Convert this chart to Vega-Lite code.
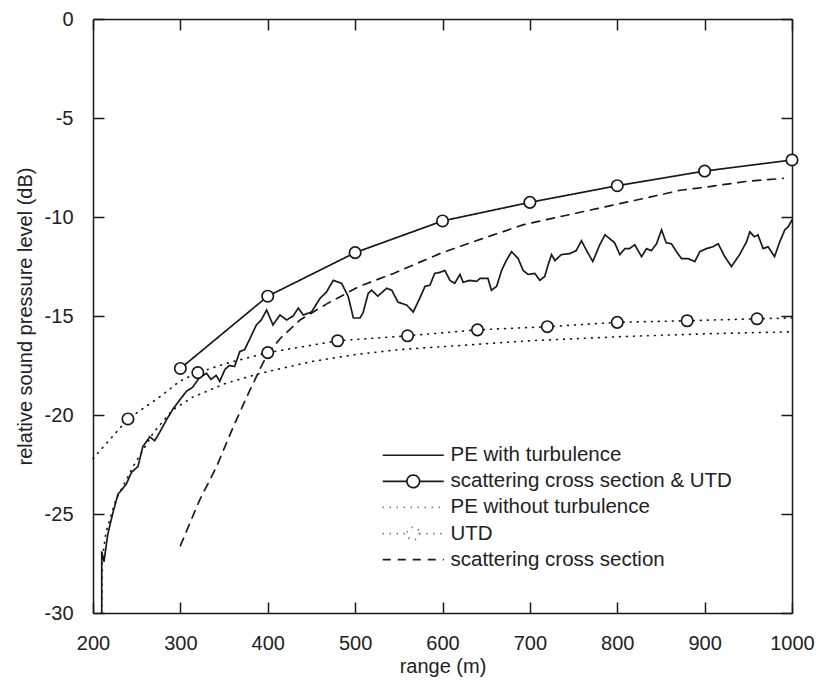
{
  "$schema": "https://vega.github.io/schema/vega-lite/v6.json",
  "width": 699,
  "height": 594,
  "autosize": {"type": "none"},
  "padding": {"left": 93, "top": 19, "right": 24, "bottom": 70},
  "background": "white",
  "config": {
    "view": {"stroke": null},
    "font": "Liberation Sans",
    "axis": {
      "domainColor": "#1a1a1a", "domainWidth": 1.5,
      "tickColor": "#1a1a1a", "tickWidth": 1.5, "tickSize": -11,
      "labelPadding": 31, "labelFont": "Liberation Sans", "labelFontSize": 20, "labelColor": "#222",
      "titleFont": "Liberation Sans", "titleFontSize": 20, "titleFontWeight": "normal", "titleColor": "#222",
      "grid": false, "labelFlush": false
    },
    "legend": {
      "orient": "none", "legendX": 310, "legendY": 426,
      "symbolSize": 100, "symbolStrokeWidth": 1.7, "symbolStrokeColor": "#1a1a1a", "symbolFillColor": "white",
      "labelFontSize": 20.5, "labelFont": "Liberation Sans", "labelColor": "#222",
      "rowPadding": 5.1, "labelOffset": 27, "padding": 0, "labelLimit": 400
    }
  },
  "datasets": {
    "curves": [
      {"series": "PE with turbulence", "r": 210, "db": -30},
      {"series": "PE with turbulence", "r": 210, "db": -26.9},
      {"series": "PE with turbulence", "r": 212.6, "db": -27.4},
      {"series": "PE with turbulence", "r": 217, "db": -26.0},
      {"series": "PE with turbulence", "r": 223, "db": -24.9},
      {"series": "PE with turbulence", "r": 228.6, "db": -24.0},
      {"series": "PE with turbulence", "r": 238, "db": -23.5},
      {"series": "PE with turbulence", "r": 244, "db": -22.9},
      {"series": "PE with turbulence", "r": 251.5, "db": -22.6},
      {"series": "PE with turbulence", "r": 257, "db": -21.6},
      {"series": "PE with turbulence", "r": 265, "db": -21.1},
      {"series": "PE with turbulence", "r": 270.6, "db": -21.3},
      {"series": "PE with turbulence", "r": 276, "db": -20.9},
      {"series": "PE with turbulence", "r": 284, "db": -20.25},
      {"series": "PE with turbulence", "r": 291.5, "db": -19.7},
      {"series": "PE with turbulence", "r": 300, "db": -19.2},
      {"series": "PE with turbulence", "r": 307, "db": -18.8},
      {"series": "PE with turbulence", "r": 314, "db": -18.6},
      {"series": "PE with turbulence", "r": 322, "db": -18.1},
      {"series": "PE with turbulence", "r": 330, "db": -17.9},
      {"series": "PE with turbulence", "r": 335, "db": -18.2},
      {"series": "PE with turbulence", "r": 341, "db": -18.0},
      {"series": "PE with turbulence", "r": 345, "db": -18.3},
      {"series": "PE with turbulence", "r": 351, "db": -17.7},
      {"series": "PE with turbulence", "r": 356, "db": -17.5},
      {"series": "PE with turbulence", "r": 362, "db": -17.55},
      {"series": "PE with turbulence", "r": 368, "db": -16.8},
      {"series": "PE with turbulence", "r": 373.5, "db": -16.7},
      {"series": "PE with turbulence", "r": 379, "db": -16.2},
      {"series": "PE with turbulence", "r": 387, "db": -15.45},
      {"series": "PE with turbulence", "r": 392.6, "db": -15.2},
      {"series": "PE with turbulence", "r": 398.7, "db": -14.7},
      {"series": "PE with turbulence", "r": 406, "db": -15.45},
      {"series": "PE with turbulence", "r": 414, "db": -14.95},
      {"series": "PE with turbulence", "r": 421.6, "db": -15.2},
      {"series": "PE with turbulence", "r": 429, "db": -15.0},
      {"series": "PE with turbulence", "r": 435, "db": -14.6},
      {"series": "PE with turbulence", "r": 440.6, "db": -14.95},
      {"series": "PE with turbulence", "r": 450, "db": -14.8},
      {"series": "PE with turbulence", "r": 460, "db": -14.1},
      {"series": "PE with turbulence", "r": 467, "db": -13.8},
      {"series": "PE with turbulence", "r": 475, "db": -13.2},
      {"series": "PE with turbulence", "r": 484.5, "db": -13.35},
      {"series": "PE with turbulence", "r": 492, "db": -14.0},
      {"series": "PE with turbulence", "r": 498, "db": -15.1},
      {"series": "PE with turbulence", "r": 505.5, "db": -15.1},
      {"series": "PE with turbulence", "r": 509, "db": -14.85},
      {"series": "PE with turbulence", "r": 515, "db": -13.85},
      {"series": "PE with turbulence", "r": 519, "db": -13.7},
      {"series": "PE with turbulence", "r": 526, "db": -14.0},
      {"series": "PE with turbulence", "r": 536, "db": -13.6},
      {"series": "PE with turbulence", "r": 542, "db": -13.7},
      {"series": "PE with turbulence", "r": 549, "db": -14.3},
      {"series": "PE with turbulence", "r": 559, "db": -14.45},
      {"series": "PE with turbulence", "r": 566.5, "db": -14.8},
      {"series": "PE with turbulence", "r": 574, "db": -14.1},
      {"series": "PE with turbulence", "r": 580, "db": -13.5},
      {"series": "PE with turbulence", "r": 585.6, "db": -13.45},
      {"series": "PE with turbulence", "r": 591, "db": -12.85},
      {"series": "PE with turbulence", "r": 597, "db": -12.8},
      {"series": "PE with turbulence", "r": 602.7, "db": -12.7},
      {"series": "PE with turbulence", "r": 608.5, "db": -13.2},
      {"series": "PE with turbulence", "r": 614, "db": -13.35},
      {"series": "PE with turbulence", "r": 620, "db": -12.9},
      {"series": "PE with turbulence", "r": 623.7, "db": -13.3},
      {"series": "PE with turbulence", "r": 631, "db": -13.2},
      {"series": "PE with turbulence", "r": 639, "db": -13.25},
      {"series": "PE with turbulence", "r": 643, "db": -13.1},
      {"series": "PE with turbulence", "r": 652, "db": -13.1},
      {"series": "PE with turbulence", "r": 656, "db": -13.7},
      {"series": "PE with turbulence", "r": 662, "db": -13.5},
      {"series": "PE with turbulence", "r": 667.6, "db": -12.7},
      {"series": "PE with turbulence", "r": 673, "db": -12.2},
      {"series": "PE with turbulence", "r": 679, "db": -11.75},
      {"series": "PE with turbulence", "r": 686.6, "db": -12.1},
      {"series": "PE with turbulence", "r": 692.3, "db": -12.7},
      {"series": "PE with turbulence", "r": 698, "db": -12.9},
      {"series": "PE with turbulence", "r": 705.7, "db": -12.85},
      {"series": "PE with turbulence", "r": 711.4, "db": -13.2},
      {"series": "PE with turbulence", "r": 717, "db": -13.0},
      {"series": "PE with turbulence", "r": 721, "db": -12.4},
      {"series": "PE with turbulence", "r": 724.8, "db": -11.9},
      {"series": "PE with turbulence", "r": 728.6, "db": -12.2},
      {"series": "PE with turbulence", "r": 736, "db": -11.9},
      {"series": "PE with turbulence", "r": 745.6, "db": -11.85},
      {"series": "PE with turbulence", "r": 753, "db": -11.7},
      {"series": "PE with turbulence", "r": 759, "db": -11.2},
      {"series": "PE with turbulence", "r": 765, "db": -11.7},
      {"series": "PE with turbulence", "r": 772, "db": -12.25},
      {"series": "PE with turbulence", "r": 780, "db": -11.4},
      {"series": "PE with turbulence", "r": 786, "db": -10.9},
      {"series": "PE with turbulence", "r": 791.5, "db": -11.1},
      {"series": "PE with turbulence", "r": 797, "db": -11.3},
      {"series": "PE with turbulence", "r": 803, "db": -11.9},
      {"series": "PE with turbulence", "r": 808.7, "db": -11.6},
      {"series": "PE with turbulence", "r": 814, "db": -11.6},
      {"series": "PE with turbulence", "r": 820, "db": -11.4},
      {"series": "PE with turbulence", "r": 827.8, "db": -12.0},
      {"series": "PE with turbulence", "r": 833.5, "db": -11.6},
      {"series": "PE with turbulence", "r": 839, "db": -11.7},
      {"series": "PE with turbulence", "r": 845, "db": -11.35},
      {"series": "PE with turbulence", "r": 850.7, "db": -10.65},
      {"series": "PE with turbulence", "r": 856, "db": -11.3},
      {"series": "PE with turbulence", "r": 862, "db": -11.35},
      {"series": "PE with turbulence", "r": 867.8, "db": -11.75},
      {"series": "PE with turbulence", "r": 873.5, "db": -12.1},
      {"series": "PE with turbulence", "r": 881, "db": -12.1},
      {"series": "PE with turbulence", "r": 888.8, "db": -12.25},
      {"series": "PE with turbulence", "r": 894.5, "db": -11.75},
      {"series": "PE with turbulence", "r": 902, "db": -11.6},
      {"series": "PE with turbulence", "r": 909.7, "db": -11.5},
      {"series": "PE with turbulence", "r": 915.5, "db": -11.35},
      {"series": "PE with turbulence", "r": 923, "db": -12.0},
      {"series": "PE with turbulence", "r": 930.7, "db": -12.5},
      {"series": "PE with turbulence", "r": 940, "db": -11.9},
      {"series": "PE with turbulence", "r": 948, "db": -11.25},
      {"series": "PE with turbulence", "r": 951.7, "db": -10.75},
      {"series": "PE with turbulence", "r": 957, "db": -11.0},
      {"series": "PE with turbulence", "r": 961, "db": -10.9},
      {"series": "PE with turbulence", "r": 967, "db": -11.6},
      {"series": "PE with turbulence", "r": 972.6, "db": -11.5},
      {"series": "PE with turbulence", "r": 980, "db": -12.0},
      {"series": "PE with turbulence", "r": 986, "db": -11.25},
      {"series": "PE with turbulence", "r": 991.8, "db": -10.65},
      {"series": "PE with turbulence", "r": 995.5, "db": -10.5},
      {"series": "PE with turbulence", "r": 1000, "db": -10.15},

      {"series": "scattering cross section & UTD", "r": 300, "db": -17.65},
      {"series": "scattering cross section & UTD", "r": 400, "db": -14.0},
      {"series": "scattering cross section & UTD", "r": 500, "db": -11.8},
      {"series": "scattering cross section & UTD", "r": 600, "db": -10.2},
      {"series": "scattering cross section & UTD", "r": 700, "db": -9.26},
      {"series": "scattering cross section & UTD", "r": 800, "db": -8.42},
      {"series": "scattering cross section & UTD", "r": 900, "db": -7.68},
      {"series": "scattering cross section & UTD", "r": 1000, "db": -7.12},

      {"series": "PE without turbulence", "r": 210, "db": -30},
      {"series": "PE without turbulence", "r": 210.5, "db": -27.3},
      {"series": "PE without turbulence", "r": 215, "db": -25.9},
      {"series": "PE without turbulence", "r": 226, "db": -24.3},
      {"series": "PE without turbulence", "r": 246, "db": -22.6},
      {"series": "PE without turbulence", "r": 269, "db": -20.9},
      {"series": "PE without turbulence", "r": 291, "db": -19.75},
      {"series": "PE without turbulence", "r": 314, "db": -19.1},
      {"series": "PE without turbulence", "r": 352, "db": -18.4},
      {"series": "PE without turbulence", "r": 391, "db": -17.9},
      {"series": "PE without turbulence", "r": 450, "db": -17.3},
      {"series": "PE without turbulence", "r": 500, "db": -16.95},
      {"series": "PE without turbulence", "r": 550, "db": -16.7},
      {"series": "PE without turbulence", "r": 600, "db": -16.55},
      {"series": "PE without turbulence", "r": 700, "db": -16.25},
      {"series": "PE without turbulence", "r": 800, "db": -16.05},
      {"series": "PE without turbulence", "r": 900, "db": -15.9},
      {"series": "PE without turbulence", "r": 1000, "db": -15.8},

      {"series": "UTD", "r": 200, "db": -22.2},
      {"series": "UTD", "r": 240, "db": -20.2},
      {"series": "UTD", "r": 276, "db": -19.1},
      {"series": "UTD", "r": 299, "db": -18.3},
      {"series": "UTD", "r": 320, "db": -17.86},
      {"series": "UTD", "r": 352, "db": -17.4},
      {"series": "UTD", "r": 400, "db": -16.85},
      {"series": "UTD", "r": 480, "db": -16.25},
      {"series": "UTD", "r": 560, "db": -16.0},
      {"series": "UTD", "r": 640, "db": -15.7},
      {"series": "UTD", "r": 720, "db": -15.54},
      {"series": "UTD", "r": 800, "db": -15.32},
      {"series": "UTD", "r": 880, "db": -15.24},
      {"series": "UTD", "r": 960, "db": -15.14},
      {"series": "UTD", "r": 1000, "db": -15.1},

      {"series": "scattering cross section", "r": 300, "db": -26.6},
      {"series": "scattering cross section", "r": 322, "db": -24.3},
      {"series": "scattering cross section", "r": 341.5, "db": -22.6},
      {"series": "scattering cross section", "r": 360.5, "db": -20.6},
      {"series": "scattering cross section", "r": 380, "db": -18.7},
      {"series": "scattering cross section", "r": 392, "db": -17.6},
      {"series": "scattering cross section", "r": 400, "db": -16.9},
      {"series": "scattering cross section", "r": 415, "db": -16.1},
      {"series": "scattering cross section", "r": 437, "db": -15.2},
      {"series": "scattering cross section", "r": 467, "db": -14.4},
      {"series": "scattering cross section", "r": 505, "db": -13.5},
      {"series": "scattering cross section", "r": 544, "db": -12.85},
      {"series": "scattering cross section", "r": 597, "db": -11.85},
      {"series": "scattering cross section", "r": 635, "db": -11.25},
      {"series": "scattering cross section", "r": 692, "db": -10.4},
      {"series": "scattering cross section", "r": 738, "db": -9.95},
      {"series": "scattering cross section", "r": 795, "db": -9.4},
      {"series": "scattering cross section", "r": 837, "db": -9.0},
      {"series": "scattering cross section", "r": 872, "db": -8.65},
      {"series": "scattering cross section", "r": 900, "db": -8.5},
      {"series": "scattering cross section", "r": 948, "db": -8.2},
      {"series": "scattering cross section", "r": 990, "db": -8.05}
    ],
    "markers": [
      {"series": "scattering cross section & UTD", "r": 300, "db": -17.65},
      {"series": "scattering cross section & UTD", "r": 400, "db": -14.0},
      {"series": "scattering cross section & UTD", "r": 500, "db": -11.8},
      {"series": "scattering cross section & UTD", "r": 600, "db": -10.2},
      {"series": "scattering cross section & UTD", "r": 700, "db": -9.26},
      {"series": "scattering cross section & UTD", "r": 800, "db": -8.42},
      {"series": "scattering cross section & UTD", "r": 900, "db": -7.68},
      {"series": "scattering cross section & UTD", "r": 1000, "db": -7.12},
      {"series": "UTD", "r": 240, "db": -20.2},
      {"series": "UTD", "r": 320, "db": -17.86},
      {"series": "UTD", "r": 400, "db": -16.85},
      {"series": "UTD", "r": 480, "db": -16.25},
      {"series": "UTD", "r": 560, "db": -16.0},
      {"series": "UTD", "r": 640, "db": -15.7},
      {"series": "UTD", "r": 720, "db": -15.54},
      {"series": "UTD", "r": 800, "db": -15.32},
      {"series": "UTD", "r": 880, "db": -15.24},
      {"series": "UTD", "r": 960, "db": -15.14}
    ]
  },
  "layer": [
    {
      "data": {"name": "curves"},
      "mark": {"type": "line", "color": "#1a1a1a", "strokeWidth": 1.7, "strokeCap": "round"},
      "encoding": {
        "x": {"field": "r", "type": "quantitative",
          "scale": {"domain": [200, 1000], "nice": false, "zero": false},
          "axis": {"orient": "bottom", "values": [200, 300, 400, 500, 600, 700, 800, 900, 1000], "title": "range (m)", "labelExpr": "datum.value + ''", "titlePadding": 3}},
        "y": {"field": "db", "type": "quantitative",
          "scale": {"domain": [-30, 0], "nice": false, "zero": false},
          "axis": {"orient": "left", "values": [0, -5, -10, -15, -20, -25, -30], "title": "relative sound pressure level (dB)", "labelExpr": "datum.value + ''", "titlePadding": 9}},
        "strokeDash": {"field": "series", "type": "nominal",
          "scale": {"domain": ["PE with turbulence", "scattering cross section & UTD", "PE without turbulence", "UTD", "scattering cross section"],
                    "range": [[1, 0], [1, 0], [0.8, 6.2], [0.8, 6.2], [8, 7]]},
          "legend": {"title": null,
            "encode": {"symbols": {"update": {"shape": {"signal": "(datum.value == 'UTD' || datum.value == 'scattering cross section & UTD') ? 'M-6.1,0H-1.26M1.26,0H6.1M1.26,0A1.26,1.26 0 1,1 -1.26,0A1.26,1.26 0 1,1 1.26,0' : 'M-6.1,0H6.1'"}}}}}},
        "order": {"value": null}
      }
    },
    {
      "data": {"name": "markers"},
      "mark": {"type": "point", "shape": "circle", "filled": true, "fill": "white", "stroke": "#1a1a1a", "strokeWidth": 1.7, "size": 130, "opacity": 1},
      "encoding": {
        "x": {"field": "r", "type": "quantitative",
          "scale": {"domain": [200, 1000], "nice": false, "zero": false},
          "axis": {"orient": "top", "values": [200, 300, 400, 500, 600, 700, 800, 900, 1000], "labels": false, "title": null}},
        "y": {"field": "db", "type": "quantitative",
          "scale": {"domain": [-30, 0], "nice": false, "zero": false},
          "axis": {"orient": "right", "values": [0, -5, -10, -15, -20, -25, -30], "labels": false, "title": null}}
      }
    }
  ]
}
